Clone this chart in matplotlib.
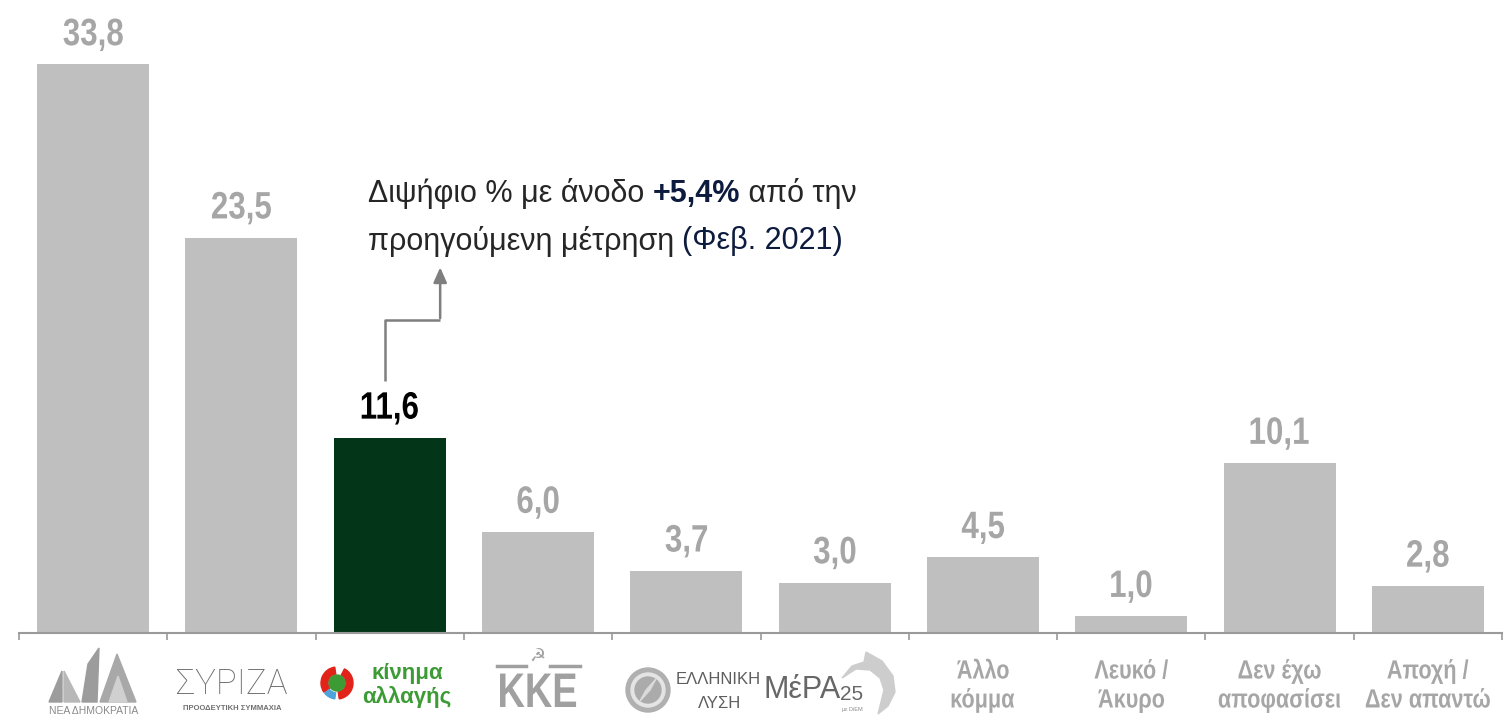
import matplotlib
matplotlib.use('Agg')
import matplotlib.pyplot as plt
import numpy as np
from matplotlib.patches import Circle, Wedge, Polygon, PathPatch
from matplotlib.textpath import TextPath
from matplotlib.font_manager import FontProperties
from matplotlib.transforms import Affine2D

plt.rcParams['font.family'] = ['Liberation Sans', 'DejaVu Sans']

# data
parties = ['ΝΔ', 'ΣΥΡΙΖΑ', 'ΚΙΝΑΛ', 'ΚΚΕ', 'Ελληνική Λύση', 'ΜέΡΑ25',
           'Άλλο κόμμα', 'Λευκό / Άκυρο', 'Δεν έχω αποφασίσει', 'Αποχή / Δεν απαντώ']
values = [33.8, 23.5, 11.6, 6.0, 3.7, 3.0, 4.5, 1.0, 10.1, 2.8]
text_labels = {6: 'Άλλο\nκόμμα', 7: 'Λευκό /\nΆκυρο', 8: 'Δεν έχω\nαποφασίσει', 9: 'Αποχή /\nΔεν απαντώ'}
highlight = 2

grey_bar = '#BFBFBF'
grey_txt = '#A6A6A6'
green = '#033618'

W, H = 1508, 717
fig = plt.figure(figsize=(W / 100, H / 100), dpi=100)
ax = fig.add_axes([19 / W, 84 / H, 1483 / W, 614 / H])
ax.set_xlim(-0.5, len(values) - 0.5)
ax.set_ylim(0, 36.5)

x = np.arange(len(values))
colors = [green if i == highlight else grey_bar for i in x]
ax.bar(x, values, width=0.755, color=colors, zorder=2)


def ntext(xd, yd, s, size, color, dy=0, sx=0.8, weight='bold', pitch=None, family='Liberation Sans'):
    """condensed text (Arial Narrow look) drawn as a path, centred at data point + dy pixels"""
    prop = FontProperties(family=family, weight=weight)
    lines = s.split('\n')
    em = size * fig.dpi / 72
    pitch = pitch or em * 1.1
    X, Y = ax.transData.transform((xd, yd))
    n = len(lines)
    for k, line in enumerate(lines):
        tp = TextPath((0, 0), line, size=size, prop=prop)
        bb = tp.get_extents()
        off = ((n - 1) / 2 - k) * pitch
        tr = (Affine2D().translate(-(bb.x0 + bb.x1) / 2, -0.36 * size)
              .scale(sx * fig.dpi / 72, fig.dpi / 72).translate(X, Y + dy + off))
        fig.add_artist(PathPatch(tp, transform=tr, facecolor=color, lw=0, clip_on=False))


for i, v in enumerate(values):
    c = 'black' if i == highlight else grey_txt
    ntext(i, v, f'{v:.1f}'.replace('.', ','), 27.5, c, dy=33, sx=0.82)

for s in ['top', 'right', 'left']:
    ax.spines[s].set_visible(False)
ax.spines['bottom'].set_color('#9A9A9A')
ax.spines['bottom'].set_linewidth(1.5)
ax.set_yticks([])
ax.set_xticks(np.arange(-0.5, len(values)))
ax.set_xticklabels([])
ax.tick_params(axis='x', length=5, color='#9A9A9A', width=1.2)

# annotation text
fs = 22
tx, ty = 1.85, 26.1
t1 = ax.text(tx, ty, 'Διψήφιο % με άνοδο ', fontsize=fs, color='#262626', va='center')
t2 = ax.annotate('+5,4%', xycoords=t1, xy=(1, 0.5), va='center', fontsize=fs,
                 fontweight='bold', color='#0D1B3E')
ax.annotate(' από την', xycoords=t2, xy=(1, 0.5), va='center', fontsize=fs, color='#262626')
t4 = ax.text(tx, ty - 2.8, 'προηγούμενη μέτρηση ', fontsize=fs, color='#262626', va='center')
ax.annotate('(Φεβ. 2021)', xycoords=t4, xy=(1, 0.5), va='center', fontsize=fs, color='#0D1B3E')

# elbow arrow
arrow_c = '#7F7F7F'
ax.plot([1.97, 1.97, 2.34], [15.0, 18.6, 18.6], color=arrow_c, lw=1.8, solid_capstyle='butt')
ax.annotate('', xy=(2.34, 21.9), xytext=(2.34, 18.55),
            arrowprops=dict(arrowstyle='-|>,head_length=0.9,head_width=0.4', color=arrow_c, lw=1.8))


def pix_axes(x0, y0, x1, y1):
    """overlay axes in reference pixel coordinates (y down) for the logos"""
    a = fig.add_axes([x0 / W, (H - y1) / H, (x1 - x0) / W, (y1 - y0) / H])
    a.set_xlim(x0, x1)
    a.set_ylim(y1, y0)
    a.axis('off')
    return a


kw = dict(ha='center', va='center', clip_on=False)
lc = '#A0A0A0'

# ND logo
nd = pix_axes(40, 640, 150, 717)
nd.add_patch(Polygon([(49, 702), (62, 671), (62, 702)], color='#9C9C9C'))
nd.add_patch(Polygon([(64, 671), (80, 702), (64, 702)], color='#B8B8B8'))
nd.add_patch(Polygon([(82, 702), (88, 664), (99, 648), (97, 702)], color='#9C9C9C'))
nd.add_patch(Polygon([(100, 702), (117, 654), (136, 702)], color='#A8A8A8'))
nd.add_patch(Polygon([(109, 702), (118, 676), (127, 702)], color='#D0D0D0'))
nd.text(94, 711, 'ΝΕΑ ΔΗΜΟΚΡΑΤΙΑ', fontsize=7.5, color='#8A8A8A', **kw)

# SYRIZA
sy = pix_axes(155, 640, 310, 717)
sy.text(232, 684, 'ΣΥΡΙΖΑ', fontsize=25, color='#6E6E6E', family=['Roboto', 'Lato', 'Liberation Sans'],
        fontweight='light', **kw)
sy.text(232, 709, 'ΠΡΟΟΔΕΥΤΙΚΗ ΣΥΜΜΑΧΙΑ', fontsize=5.5, color='#707070', fontweight='bold', **kw)

# kinal (y axis points down, so angles run clockwise on screen)
kn = pix_axes(315, 640, 470, 717)
kn.set_aspect('equal')
kc = (337, 683)
kn.add_patch(Wedge(kc, 16, 145, 262, width=7, color='#E2231A'))
kn.add_patch(Wedge(kc, 16, 298, 82, width=7, color='#E2231A'))
kn.add_patch(Wedge(kc, 16, 98, 140, width=6, color='#4DA3DB'))
kn.add_patch(Circle(kc, 8, color='#3C9B35'))
kn.text(407, 674, 'κίνημα', fontsize=16, fontweight='bold', color='#3C9B35', **kw)
kn.text(407, 697, 'αλλαγής', fontsize=16, fontweight='bold', color='#3C9B35', **kw)

# KKE
kk = pix_axes(480, 640, 600, 717)
kk.text(538, 656, '☭', fontsize=13, color=lc, family='DejaVu Sans', **kw)
kk.plot([497, 526], [666, 666], color=lc, lw=2.5)
kk.plot([550, 580], [666, 666], color=lc, lw=2.5)
ntext(3, 0, 'ΚΚΕ', 35, lc, dy=-(689.5 - 633), sx=0.78)

# Elliniki Lysi
el = pix_axes(615, 640, 770, 717)
el.set_aspect('equal')
ec = (648, 690)
el.add_patch(Circle(ec, 22, color='#B0B0B0'))
el.add_patch(Circle(ec, 17, color='#E4E4E4'))
el.add_patch(Circle(ec, 13, color='#ABABAB'))
el.add_patch(Polygon([(656, 679), (650, 690), (640, 701), (646, 690)], color='#DADADA'))
el.text(718, 679, 'ΕΛΛΗΝΙΚΗ', fontsize=12, color='#5E5E5E', **kw)
el.text(720, 703, 'ΛΥΣΗ', fontsize=12, color='#5E5E5E', **kw)

# MeRA25
mr = pix_axes(760, 640, 910, 717)
mr.add_patch(Polygon([(866, 652), (882, 661), (893, 676), (895, 692), (888, 706), (878, 714),
                      (881, 702), (884, 690), (880, 678), (870, 670), (856, 669), (842, 678),
                      (852, 666), (864, 662)], color='#CDCDCD'))
mr.text(802, 690, 'ΜέΡΑ', fontsize=22, color='#676767', **kw)
mr.text(852, 695, '25', fontsize=15, color='#676767', **kw)
mr.text(852, 710, 'με DiEM', fontsize=4, color='#8A8A8A', **kw)

# text categories
for i, lab in text_labels.items():
    ntext(i, 0, lab, 19, grey_txt, dy=-(683.5 - 633), sx=0.82, pitch=29)

fig.savefig('out.png', dpi=100)
